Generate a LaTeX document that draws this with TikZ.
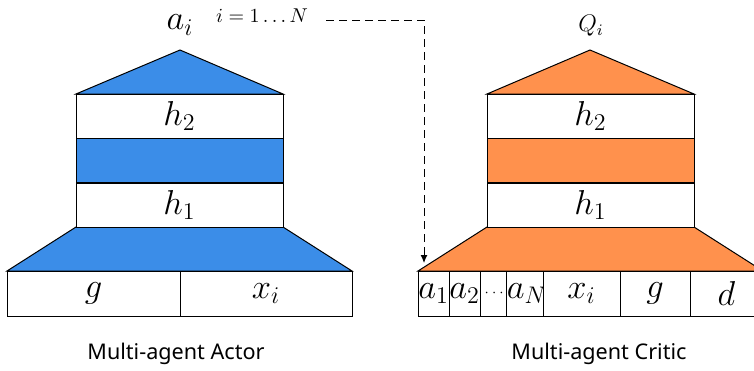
\documentclass[tikz,border=0pt]{standalone}
\usepackage{amsmath,amssymb}
\usepackage{fontspec}
\newfontfamily\labelfont{Noto Sans}
\usepackage{tikz}
\usepackage{xcolor}
\usetikzlibrary{arrows.meta,positioning}

\definecolor{actorblue}{RGB}{59,141,232}
\definecolor{criticorange}{RGB}{255,145,77}

\begin{document}
\begin{tikzpicture}[x=0.5pt,y=-0.5pt,
    layer/.style={draw, line width=0.5pt, fill=white, minimum width=103.5pt, minimum height=22pt, inner sep=0pt, font=\fontsize{16.5}{18}\selectfont},
    cell/.style={draw, line width=0.5pt, fill=white, minimum height=22.5pt, inner sep=0pt, font=\fontsize{16.5}{18}\selectfont},
    net/.style={draw, line width=0.5pt},
    caption/.style={font=\labelfont\fontsize{10.8}{13}\selectfont}]
        \useasboundingbox (0,0) rectangle (754,370);

        % actor
        \filldraw[net, fill=actorblue] (76,227) -- (283,227) -- (352,271) -- (7,271) -- cycle;
        \filldraw[net, fill=actorblue] (76,94) -- (180,50) -- (283,94) -- cycle;
        \node[layer] (ah2) at (179.5,116) {$h_2$};
        \node[layer, fill=actorblue] (amid) at (179.5,160.5) {};
        \node[layer] (ah1) at (179.5,205) {$h_1$};
        \node[cell, minimum width=86.5pt] (ag) at (93.5,293.5) {$g$};
        \node[cell, minimum width=86pt] (ax) at (266,293.5) {$x_i$};
        \node[font=\fontsize{17}{19}\selectfont] (aout) at (180,25) {$a_i$};
        \node[caption] (actor) at (176,354) {Multi-agent Actor};

        % critic
        \filldraw[net, fill=criticorange] (487,227) -- (694,227) -- (763,271) -- (418,271) -- cycle;
        \filldraw[net, fill=criticorange] (487,94) -- (590,50) -- (694,94) -- cycle;
        \node[layer] (ch2) at (590.5,116) {$h_2$};
        \node[layer, fill=criticorange] (cmid) at (590.5,160.5) {};
        \node[layer] (ch1) at (590.5,205) {$h_1$};
        \foreach \l/\r/\t/\n in {418/449/{$a_1$}/ca1, 449/480/{$a_2$}/ca2,
            480/511/{\fontsize{7}{8}\selectfont$\cdots$}/cdots, 511/543/{$a_N$}/caN,
            543/620/{$x_i$}/cx, 620/690/{$g$}/cg, 690/763/{$d$}/cd}
            \node[cell, minimum width={(\r-\l)*0.5pt}] (\n) at ({(\l+\r)/2},293.5) {\t};
        \node[font=\fontsize{12}{14}\selectfont] (cout) at (591,26) {$Q_i$};
        \node[caption] (critic) at (599,354) {Multi-agent Critic};

        % index of the agents
        \node[font=\fontsize{10.2}{12}\selectfont, inner sep=0pt] (idx) at (262,16) {$i=1\ldots N$};
        \coordinate (tip) at (424,263);
        \draw[dashed, dash pattern=on 4pt off 2.5pt, line width=0.5pt, -{Latex[length=4pt,width=3.5pt]}]
            ([xshift=9pt,yshift=-2pt]idx.east) -| (tip);
      \end{tikzpicture}
\end{document}
